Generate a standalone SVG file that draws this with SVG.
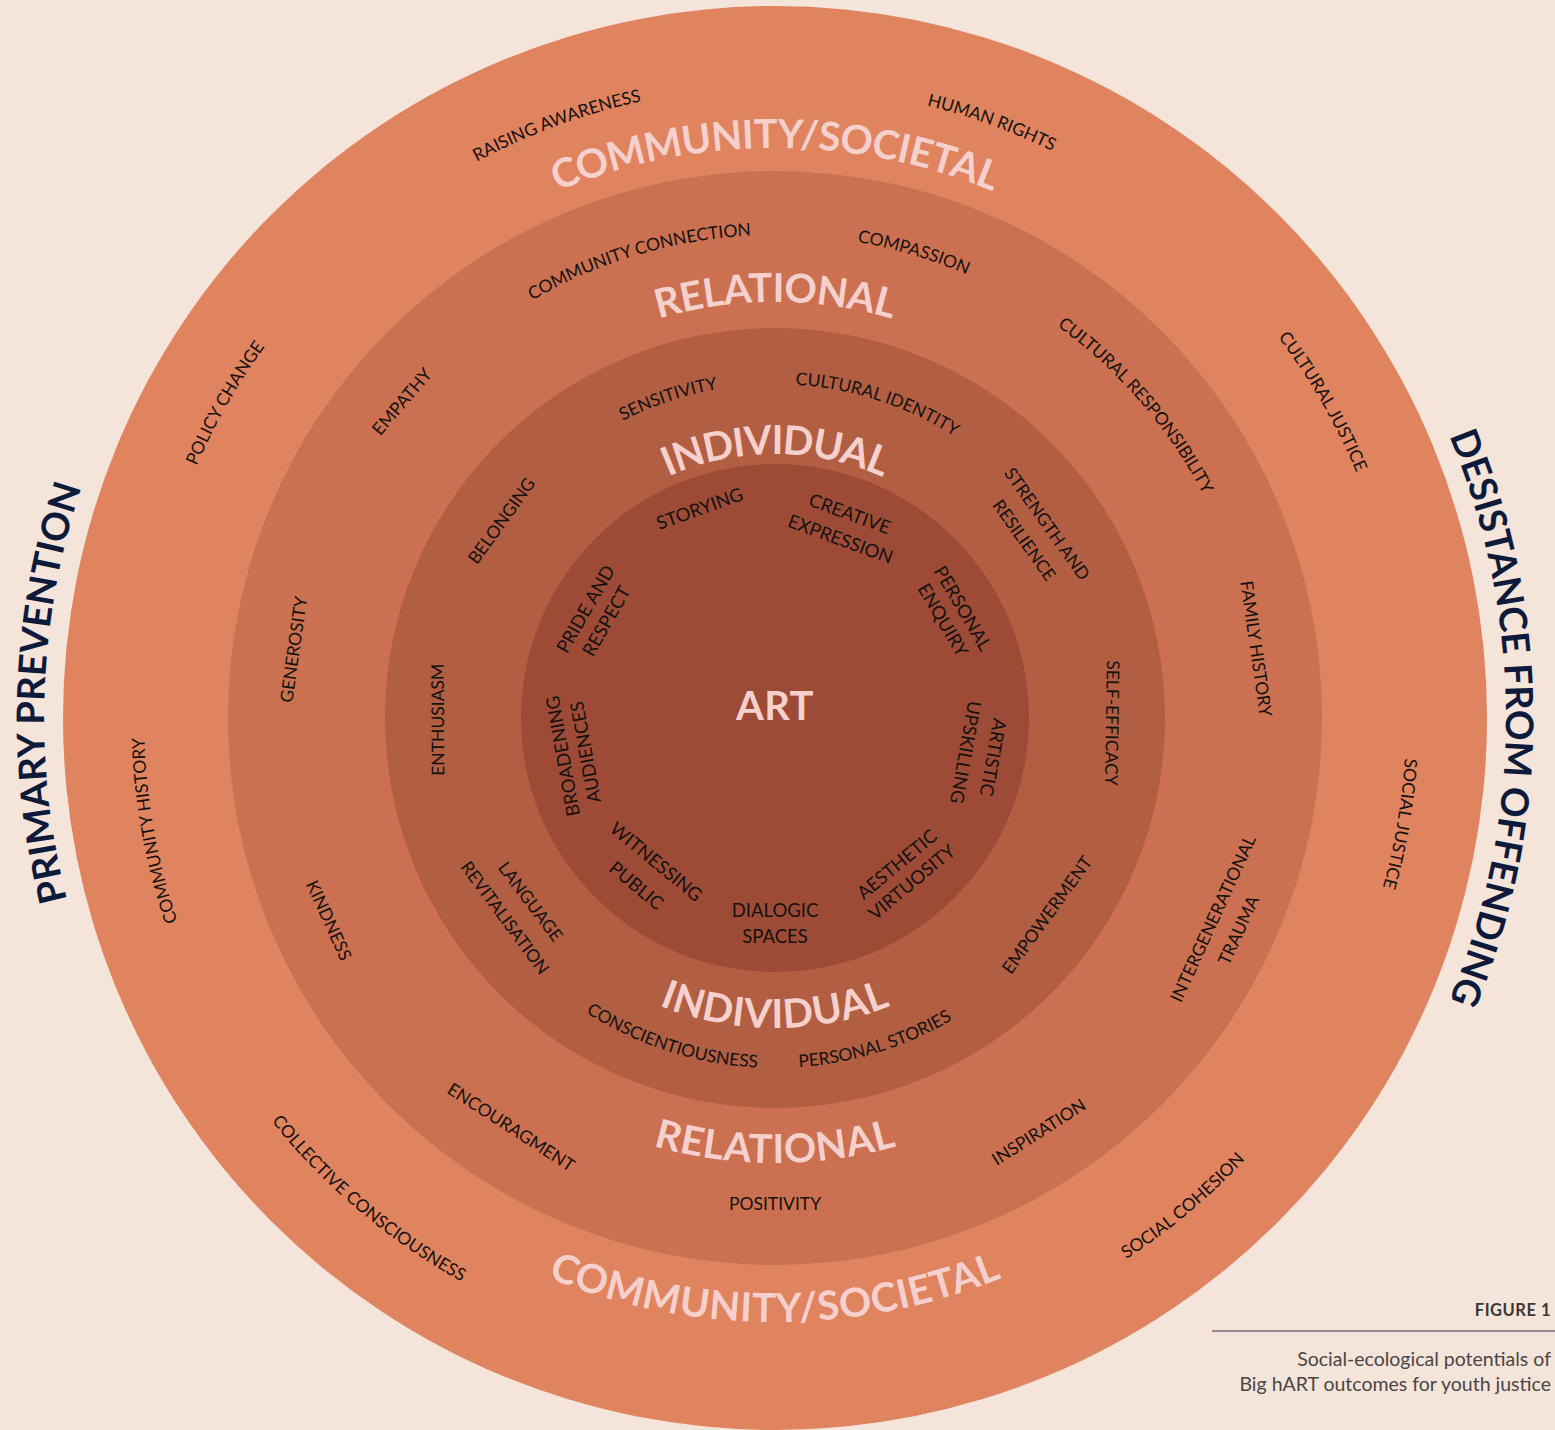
<svg xmlns="http://www.w3.org/2000/svg" width="1555" height="1430" viewBox="0 0 1555 1430">
<defs>
<style>
.lbl{font-family:Lato,"Liberation Sans",sans-serif;font-size:17.5px;fill:#15110f;text-anchor:middle}
.in{font-size:18.5px}
.hd{font-family:Lato,"Liberation Sans",sans-serif;font-weight:700;font-size:40px;fill:#f5d0cc;text-anchor:middle;letter-spacing:0.5px}
.top{letter-spacing:-0.6px}
.side{font-family:Lato,"Liberation Sans",sans-serif;font-weight:700;font-size:38px;fill:#0e1a3a;text-anchor:middle}
.cap{font-family:Lato,"Liberation Sans",sans-serif;font-size:19.5px;fill:#4a4646;text-anchor:end}
</style>
<path id="cw731" d="M-633 -365.5 A731 731 0 0 1 633 -365.5"/>
<path id="cw631" d="M-546.5 -315.5 A631 631 0 0 1 546.5 -315.5"/>
<path id="cw570" d="M-493.6 -285 A570 570 0 0 1 493.6 -285"/>
<path id="cw483" d="M-418.3 -241.5 A483 483 0 0 1 418.3 -241.5"/>
<path id="cw416" d="M-360.3 -208 A416 416 0 0 1 360.3 -208"/>
<path id="cw334" d="M-289.2 -167 A334 334 0 0 1 289.2 -167"/>
<path id="cw264" d="M-228.6 -132 A264 264 0 0 1 228.6 -132"/>
<path id="ccw645" d="M-558.6 322.5 A645 645 0 0 0 558.6 322.5"/>
<path id="ccw604" d="M-523.1 302 A604 604 0 0 0 523.1 302"/>
<path id="ccw445" d="M-385.4 222.5 A445 445 0 0 0 385.4 222.5"/>
<path id="ccw350" d="M-303.1 175 A350 350 0 0 0 303.1 175"/>
<path id="ccw310" d="M-268.5 155 A310 310 0 0 0 268.5 155"/>
</defs>
<rect width="1555" height="1430" fill="#f4e4da"/>

<g id="ring-community"><circle cx="775" cy="718" r="712" fill="#e0835f"/></g>
<g id="ring-relational"><circle cx="775" cy="718" r="547" fill="#cb7050"/></g>
<g id="ring-individual"><circle cx="775" cy="718" r="390" fill="#b15e42"/></g>
<g id="core-art"><circle cx="775" cy="718" r="254" fill="#9d4b36"/>
<text class="hd" x="775" y="720" font-size="38">ART</text></g>

<g id="side-labels" transform="translate(775 718)">
<text class="side" transform="rotate(-88)"><textPath href="#cw731" startOffset="50%">PRIMARY PREVENTION</textPath></text>
<text class="side" transform="rotate(90)"><textPath href="#cw731" startOffset="50%">DESISTANCE FROM OFFENDING</textPath></text>
</g>

<g id="headings" transform="translate(775 718)">
<text class="hd top"><textPath href="#cw570" startOffset="50%">COMMUNITY/SOCIETAL</textPath></text>
<text class="hd"><textPath href="#ccw604" startOffset="50%">COMMUNITY/SOCIETAL</textPath></text>
<text class="hd top"><textPath href="#cw416" startOffset="50%">RELATIONAL</textPath></text>
<text class="hd"><textPath href="#ccw445" startOffset="50%">RELATIONAL</textPath></text>
<text class="hd" style="letter-spacing:-1.3px"><textPath href="#cw264" startOffset="50%">INDIVIDUAL</textPath></text>
<text class="hd"><textPath href="#ccw310" startOffset="50%">INDIVIDUAL</textPath></text>
</g>

<g id="community-labels" transform="translate(775 718)">
<text class="lbl" transform="rotate(-20.2)"><textPath href="#cw631" startOffset="50%">RAISING AWARENESS</textPath></text>
<text class="lbl" transform="rotate(20)"><textPath href="#cw631" startOffset="50%">HUMAN RIGHTS</textPath></text>
<text class="lbl" transform="rotate(-60.2)"><textPath href="#cw631" startOffset="50%">POLICY CHANGE</textPath></text>
<text class="lbl" transform="rotate(60)"><textPath href="#cw631" startOffset="50%">CULTURAL JUSTICE</textPath></text>
<text class="lbl" transform="rotate(-100.3)"><textPath href="#cw631" startOffset="50%">COMMUNITY HISTORY</textPath></text>
<text class="lbl" transform="rotate(99.6)"><textPath href="#cw631" startOffset="50%">SOCIAL JUSTICE</textPath></text>
<text class="lbl" transform="rotate(40.2)"><textPath href="#ccw645" startOffset="50%">COLLECTIVE CONSCIOUSNESS</textPath></text>
<text class="lbl" transform="rotate(-39.9)"><textPath href="#ccw645" startOffset="50%">SOCIAL COHESION</textPath></text>
</g>

<g id="relational-labels" transform="translate(775 718)">
<text class="lbl" transform="rotate(-16.5)"><textPath href="#cw483" startOffset="50%">COMMUNITY CONNECTION</textPath></text>
<text class="lbl" transform="rotate(16.6)"><textPath href="#cw483" startOffset="50%">COMPASSION</textPath></text>
<text class="lbl" transform="rotate(-49.7)" y="-483">EMPATHY</text>
<text class="lbl" transform="rotate(49.1)"><textPath href="#cw483" startOffset="50%">CULTURAL RESPONSIBILITY</textPath></text>
<text class="lbl" transform="rotate(-81.9)" y="-480">GENEROSITY</text>
<text class="lbl" transform="rotate(81.8)" y="-480">FAMILY HISTORY</text>
<text class="lbl" transform="rotate(65.6)" y="496">KINDNESS</text>
<text class="lbl" transform="rotate(-65.4)" y="488">INTERGENERATIONAL</text>
<text class="lbl" transform="rotate(-65.4)" y="516">TRAUMA</text>
<text class="lbl" transform="rotate(32.8)" y="493">ENCOURAGMENT</text>
<text class="lbl" transform="rotate(-32.5)" y="497">INSPIRATION</text>
<text class="lbl" y="492">POSITIVITY</text>
</g>

<g id="individual-labels" transform="translate(775 718)">
<text class="lbl" transform="rotate(-18.5)"><textPath href="#cw334" startOffset="50%">SENSITIVITY</textPath></text>
<text class="lbl" transform="rotate(18)"><textPath href="#cw334" startOffset="50%">CULTURAL IDENTITY</textPath></text>
<text class="lbl" transform="rotate(-54.2)" y="-331">BELONGING</text>
<text class="lbl" transform="rotate(54.5)" y="-328">STRENGTH AND</text>
<text class="lbl" transform="rotate(54.5)" y="-300">RESILIENCE</text>
<text class="lbl" transform="rotate(90.85)" y="-331">SELF-EFFICACY</text>
<text class="lbl" transform="rotate(-90.3)" y="-331">ENTHUSIASM</text>
<text class="lbl" transform="rotate(-54.1)" y="342">EMPOWERMENT</text>
<text class="lbl" transform="rotate(53.1)" y="312">LANGUAGE</text>
<text class="lbl" transform="rotate(53.5)" y="342">REVITALISATION</text>
<text class="lbl" transform="rotate(17.8)"><textPath href="#ccw350" startOffset="50%">CONSCIENTIOUSNESS</textPath></text>
<text class="lbl" transform="rotate(-17.2)"><textPath href="#ccw350" startOffset="50%">PERSONAL STORIES</textPath></text>
</g>

<g id="art-labels" transform="translate(775 718)">
<text class="lbl in" transform="rotate(-19.8)" y="-216">STORYING</text>
<text class="lbl in" transform="rotate(20.1)" y="-211">CREATIVE</text>
<text class="lbl in" transform="rotate(20.1)" y="-184">EXPRESSION</text>
<text class="lbl in" transform="rotate(59.7)" y="-211">PERSONAL</text>
<text class="lbl in" transform="rotate(59.7)" y="-188">ENQUIRY</text>
<text class="lbl in" transform="rotate(-60.1)" y="-212">PRIDE AND</text>
<text class="lbl in" transform="rotate(-60.1)" y="-188">RESPECT</text>
<text class="lbl in" transform="rotate(-100.2)" y="-209">BROADENING</text>
<text class="lbl in" transform="rotate(-100.2)" y="-186">AUDIENCES</text>
<text class="lbl in" transform="rotate(100.2)" y="-215">ARTISTIC</text>
<text class="lbl in" transform="rotate(100.2)" y="-187">UPSKILLING</text>
<text class="lbl in" transform="rotate(39.6)" y="193">WITNESSING</text>
<text class="lbl in" transform="rotate(39.6)" y="224">PUBLIC</text>
<text class="lbl in" y="199">DIALOGIC</text>
<text class="lbl in" y="225">SPACES</text>
<text class="lbl in" transform="rotate(-39.8)" y="197">AESTHETIC</text>
<text class="lbl in" transform="rotate(-39.8)" y="220">VIRTUOSITY</text>
</g>

<g id="caption">
<text x="1551" y="1316" text-anchor="end" font-family="Lato,'Liberation Sans',sans-serif" font-weight="700" font-size="16.5" letter-spacing="0.5" fill="#3a3636">FIGURE 1</text>
<line x1="1212" y1="1331" x2="1555" y2="1331" stroke="#6e6d78" stroke-width="1.5"/>
<text class="cap" x="1551" y="1366">Social-ecological potentials of</text>
<text class="cap" x="1551" y="1391">Big hART outcomes for youth justice</text>
</g>
</svg>
